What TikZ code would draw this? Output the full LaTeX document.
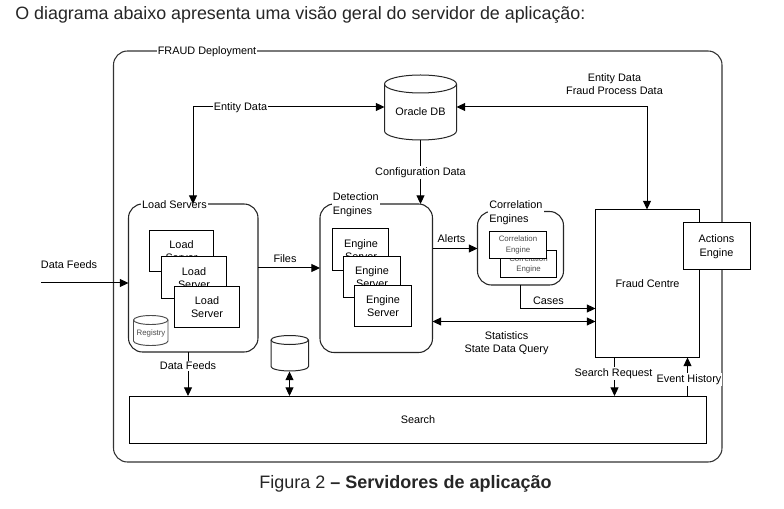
\documentclass[tikz,border=0pt]{standalone}
\usepackage{fontspec}
\setmainfont{Liberation Sans}
\usetikzlibrary{arrows.meta,shapes.geometric}
\tikzset{
  x=0.75pt,y=-0.75pt,
  every node/.style={font=\fontsize{8.15pt}{10.2pt}\selectfont,text=black,align=center,inner sep=0.8pt},
  group/.style={draw=black!85,line width=0.8pt,rounded corners=10.5pt,fill=white},
  srv/.style={draw=black,line width=0.75pt,fill=white},
  lab/.style={fill=white},
  link/.style={draw=black,line width=0.75pt,-{Triangle[length=6.5pt,width=6pt]}},
  biglink/.style={draw=black,line width=0.75pt,{Triangle[length=6.5pt,width=6pt]}-{Triangle[length=6.5pt,width=6pt]}},
  small/.style={font=\fontsize{5.9pt}{8pt}\selectfont,text=black!70},
}
\begin{document}
\begin{tikzpicture}
\useasboundingbox (0,0) rectangle (784,509);
\fill[white] (0,0) rectangle (784,509);
\node[anchor=west,font=\fontsize{13.4pt}{15pt}\selectfont,text=black!85] (intro) at (14,14.5) {O diagrama abaixo apresenta uma visão geral do servidor de aplicação:};
\node[font=\fontsize{13.5pt}{15pt}\selectfont,text=black!85] (caption) at (405.5,483.5) {Figura 2 \textbf{– Servidores de aplicação}};
% outer
\draw[group,draw=black!80] (113.5,51) rectangle (722,462);
\node[lab,anchor=west] (fraud) at (156.5,51.5) {FRAUD Deployment};
% oracle
\path[draw=black!85,line width=0.75pt,fill=white] (384.5,84) -- (384.5,131) arc[start angle=180,end angle=360,x radius=36,y radius=-9] -- (456.5,84) arc[start angle=0,end angle=180,x radius=36,y radius=-9] -- cycle;
\draw[black!85,line width=0.75pt] (384.5,84) arc[start angle=180,end angle=360,x radius=36,y radius=-9];
\node (oracle) at (420.5,111.5) {Oracle DB};
\coordinate (oraW) at (384.5,107);
\coordinate (oraE) at (456.5,107);
\coordinate (oraS) at (420.5,140);
% load servers
\draw[group] (128.5,204) rectangle (258,352);
\node[lab] (loadlab) at (174.5,204.5) {Load Servers};
\coordinate (loadN) at (193,204);
\coordinate (loadS) at (188,352);
\coordinate (loadW) at (128.5,283);
\coordinate (loadE) at (258,268);
\draw[srv] (149.5,230.5) rectangle (213,272);
\node (l1) at (181.5,251) {Load\\Server};
\draw[srv] (161.5,257) rectangle (226.5,298);
\node (l2) at (194,278) {Load\\Server};
\draw[srv] (174,286.5) rectangle (239.5,327);
\node (l3) at (207,307) {Load\\Server};
% registry
\path[draw=black!70,line width=0.7pt,fill=white] (133.5,320) -- (133.5,341) arc[start angle=180,end angle=360,x radius=17.25,y radius=-4.5] -- (168,320) arc[start angle=0,end angle=180,x radius=17.25,y radius=-4.5] -- cycle;
\draw[black!70,line width=0.7pt] (133.5,320) arc[start angle=180,end angle=360,x radius=17.25,y radius=-4.5];
\node[small] (registry) at (151,333) {Registry};
% detection
\draw[group] (320,204) rectangle (432.5,352.5);
\node[lab,anchor=west,align=left] (detlab) at (331.5,204.5) {Detection\\Engines};
\coordinate (detN) at (420.5,204);
\coordinate (detW) at (320,268);
\coordinate (detE1) at (432.5,248.5);
\coordinate (detE2) at (432.5,321.5);
\draw[srv] (332.5,229) rectangle (388.5,270.5);
\node (e1) at (361,250) {Engine\\Server};
\draw[srv] (343.5,256.5) rectangle (400,297.5);
\node (e2) at (372,277) {Engine\\Server};
\draw[srv] (354.5,285.5) rectangle (411.5,326.5);
\node (e3) at (383,306) {Engine\\Server};
% correlation
\draw[group] (477.5,211.5) rectangle (563.5,285);
\node[lab,anchor=west,align=left] (corlab) at (488,212.5) {Correlation\\Engines};
\coordinate (corW) at (477.5,248.5);
\coordinate (corS) at (520.5,285);
\draw[srv] (500.5,250.5) rectangle (556.5,277.5);
\node[small] (c2) at (528.5,264.5) {Correlation\\Engine};
\draw[srv] (489.5,231.5) rectangle (546,258.5);
\node[small] (c1) at (518,245) {Correlation\\Engine};
% fraud centre
\draw[srv] (595.5,209.5) rectangle (699.5,357.5);
\node (fc) at (647.5,284) {Fraud Centre};
\coordinate (fcN) at (647,209.5);
\coordinate (fcW1) at (595.5,308.5);
\coordinate (fcW2) at (595.5,321.5);
\coordinate (fcS1) at (614.5,357.5);
\coordinate (fcS2) at (687.5,357.5);
\draw[srv] (683.5,222.5) rectangle (750.5,269.5);
\node (actions) at (716.5,246.5) {Actions\\Engine};
% search
\draw[srv] (129.5,396) rectangle (706.5,443);
\node (search) at (418,420) {Search};
\coordinate (seaA) at (188,396);
\coordinate (seaB) at (289.5,396);
\coordinate (seaC) at (614.5,396);
\coordinate (seaD) at (687.5,396);
% small db
\path[draw=black!85,line width=0.75pt,fill=white] (271,340) -- (271,366.5) arc[start angle=180,end angle=360,x radius=18.75,y radius=-4.5] -- (308.5,340) arc[start angle=0,end angle=180,x radius=18.75,y radius=-4.5] -- cycle;
\draw[black!85,line width=0.75pt] (271,340) arc[start angle=180,end angle=360,x radius=18.75,y radius=-4.5];
\coordinate (dbS) at (289.5,371.5);
% connectors
\coordinate (feedsrc) at (41,283);
\coordinate (c1a) at (193,107);
\coordinate (c1b) at (647,107);
\coordinate (c1c) at (520.5,308.5);
\draw[link] (feedsrc) -- (loadW);
\node (dfin) at (69,264.5) {Data Feeds};
\draw[biglink] (oraW) -- (c1a) -- (loadN);
\node[lab] (entL) at (240.5,107.5) {Entity Data};
\draw[biglink] (oraE) -- (c1b) -- (fcN);
\node (entR) at (614.5,84) {Entity Data\\Fraud Process Data};
\draw[link] (oraS) -- (detN);
\node[lab] (conf) at (420.5,172.5) {Configuration Data};
\draw[link] (loadE) -- (detW);
\node (files) at (285,258.5) {Files};
\draw[link] (detE1) -- (corW);
\node (alerts) at (451.5,238.5) {Alerts};
\draw[link] (corS) -- (c1c) -- (fcW1);
\node (cases) at (548.5,300.5) {Cases};
\draw[biglink] (detE2) -- (fcW2);
\node (stats) at (506.5,343) {Statistics\\State Data Query};
\draw[link] (loadS) -- (seaA);
\node[lab] (dfout) at (188,366) {Data Feeds};
\draw[biglink] (dbS) -- (seaB);
\draw[link] (fcS1) -- (seaC);
\node[lab] (sreq) at (613.5,373.5) {Search Request};
\draw[link] (seaD) -- (fcS2);
\node[lab] (ehist) at (689,379.5) {Event History};
\end{tikzpicture}
\end{document}
